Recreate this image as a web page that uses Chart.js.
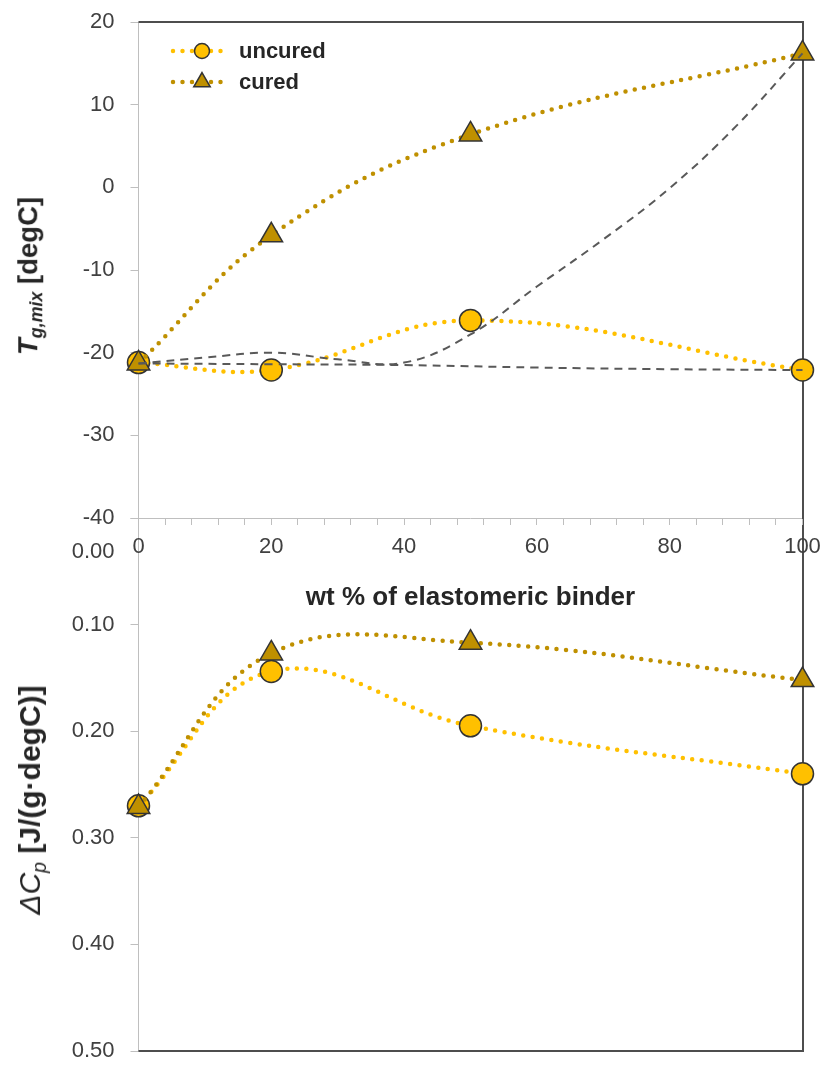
<!DOCTYPE html>
<html><head><meta charset="utf-8">
<script src="https://cdn.jsdelivr.net/npm/chart.js@4.4.1/dist/chart.umd.min.js"></script>
<style>
html,body{margin:0;padding:0;background:#fff;overflow:hidden;}
#wrap{position:relative;width:827px;height:1067px;overflow:hidden;background:#fff;}
canvas{position:absolute;left:0;}
#cBot{top:0;}
#cTop{top:-20px;}
.ytitle{position:absolute;white-space:nowrap;font-family:'Liberation Sans',Arial,sans-serif;font-weight:bold;color:#262626;line-height:1;transform:translate(-50%,-50%) rotate(-90deg);}
.sub{font-size:0.65em;position:relative;top:0.3em;}
</style></head>
<body><div id="wrap">
<canvas id="cBot" width="827" height="1130"></canvas>
<canvas id="cTop" width="847" height="1087"></canvas>
<div class="ytitle" style="left:28px;top:276px;font-size:27.5px;"><i>T</i><span class="sub"><i>g,mix</i></span> [degC]</div>
<div class="ytitle" style="left:30px;top:800px;font-size:30px;"><i style="font-weight:normal">ΔC</i><span class="sub"><i style="font-weight:normal">p</i></span> [J/(g·degC)]</div>
</div>
<script>
// ---- data ----
const wtPct = [0, 20, 50, 100];
const seriesNames = ['uncured', 'cured'];
const tgUncured = [-21.2, -22.1, -16.1, -22.1];
const tgCured = [-21.3, -5.8, 6.4, 16.2];
const modelUpperX = [0, 10, 20, 30, 40, 50, 60, 70, 80, 90, 100];
const modelUpperTg = [-21.3, -20.6, -20.0, -20.8, -21.2, -17.8, -12.0, -6.3, -0.1, 7.4, 16.2];
const modelLowerX = [0, 20, 40, 60, 80, 100];
const modelLowerTg = [-21.3, -21.4, -21.5, -21.8, -22.0, -22.1];
const cpUncured = [0.270, 0.144, 0.195, 0.240];
const cpCured = [0.271, 0.127, 0.117, 0.152];
const xTicks = [0, 4, 8, 12, 16, 20, 24, 28, 32, 36, 40, 44, 48, 52, 56, 60, 64, 68, 72, 76, 80, 84, 88, 92, 96, 100];
const xTickLabels = ['0', '20', '40', '60', '80', '100'];
const tgTicks = [-40, -30, -20, -10, 0, 10, 20];
const tgTickLabels = ['-40', '-30', '-20', '-10', '0', '10', '20'];
const cpTicks = [0, 0.1, 0.2, 0.3, 0.4, 0.5];
const cpTickLabels = ['0.00', '0.10', '0.20', '0.30', '0.40', '0.50'];

const zip = (xs, ys) => xs.map((x, i) => ({x: x, y: ys[i]}));

const FONT = "'Liberation Sans', Arial, Helvetica, sans-serif";
Chart.defaults.font.family = FONT;
Chart.defaults.color = '#404040';

const C_UNC = '#FFC000', C_CUR = '#BF9000', C_EDGE = '#333333', C_MODEL = '#595959';

function uncuredDS(data) {
  return {label: seriesNames[0], data: data, order: 2, clip: false, legendRank: 0,
    borderColor: C_UNC, borderWidth: 4.5, borderDash: [0, 9.5], borderCapStyle: 'round', tension: 0.4,
    pointStyle: 'circle', pointRadius: 11, pointBorderWidth: 1.5, pointBackgroundColor: C_UNC, pointBorderColor: C_EDGE, fill: false};
}
function curedDS(data) {
  return {label: seriesNames[1], data: data, order: 1, clip: false, legendRank: 1,
    borderColor: C_CUR, borderWidth: 4.5, borderDash: [0, 9.5], borderCapStyle: 'round', tension: 0.4,
    pointStyle: 'triangle', pointRadius: 13, pointBorderWidth: 1.5, pointBackgroundColor: C_CUR, pointBorderColor: C_EDGE, fill: false};
}
function modelDS(data) {
  return {label: 'model', data: data, order: 0, clip: false,
    borderColor: C_MODEL, borderWidth: 2, borderDash: [8, 6], tension: 0.4, pointRadius: 0, fill: false};
}

const framePlugin = {
  id: 'frame',
  beforeDatasetsDraw(chart, args, opts) {
    const {ctx, chartArea} = chart;
    const {left, right, top, bottom} = chartArea;
    ctx.save();
    ctx.strokeStyle = opts.color || '#555';
    ctx.lineWidth = opts.width || 2;
    ctx.beginPath();
    if (opts.top) { ctx.moveTo(left, top); ctx.lineTo(right + 1.5, top); }
    if (opts.right) { ctx.moveTo(right + 0.5, top - 1); ctx.lineTo(right + 0.5, bottom + 1); }
    if (opts.bottom) { ctx.moveTo(left, bottom); ctx.lineTo(right + 1.5, bottom); }
    ctx.stroke();
    ctx.restore();
  }
};

const legendPlugin = {
  id: 'inLegend',
  afterDatasetsDraw(chart, args, opts) {
    if (!opts.show) return;
    const {ctx} = chart;
    const items = chart.data.datasets.filter(d => d.legendRank !== undefined)
      .sort((a, b) => a.legendRank - b.legendRank);
    items.forEach((ds, i) => {
      const y = opts.rows[i];
      ctx.save();
      ctx.strokeStyle = ds.borderColor;
      ctx.lineWidth = ds.borderWidth;
      ctx.lineCap = 'round';
      ctx.setLineDash(ds.borderDash);
      ctx.beginPath(); ctx.moveTo(opts.x0, y); ctx.lineTo(opts.x1, y); ctx.stroke();
      ctx.setLineDash([]);
      ctx.fillStyle = ds.pointBackgroundColor;
      ctx.strokeStyle = ds.pointBorderColor;
      ctx.lineWidth = ds.pointBorderWidth;
      Chart.helpers.drawPoint(ctx, {pointStyle: ds.pointStyle, radius: ds.pointStyle === 'triangle' ? 9.5 : 7.5,
        borderWidth: ds.pointBorderWidth, rotation: 0}, opts.xm, y);
      ctx.fillStyle = '#262626';
      ctx.font = 'bold 22px ' + FONT;
      ctx.textBaseline = 'middle';
      ctx.textAlign = 'left';
      ctx.fillText(ds.label, opts.xt, y + 1);
      ctx.restore();
    });
  }
};

const axisGrid = {drawOnChartArea: false, drawTicks: true, color: '#BFBFBF', lineWidth: 1};

new Chart(document.getElementById('cTop'), {
  type: 'line',
  data: {datasets: [
    modelDS(zip(modelUpperX, modelUpperTg)),
    modelDS(zip(modelLowerX, modelLowerTg)),
    curedDS(zip(wtPct, tgCured)),
    uncuredDS(zip(wtPct, tgUncured))
  ]},
  options: {
    responsive: false, animation: false, events: [],
    layout: {padding: {top: 42, left: 0, right: 44.5, bottom: 454}},
    plugins: {legend: {display: false}, tooltip: {enabled: false},
      frame: {top: true, right: true, color: '#4d4d4d', width: 2},
      inLegend: {show: true, rows: [71, 102], x0: 173, x1: 228, xm: 202, xt: 239}},
    scales: {
      x: {type: 'linear', min: 0, max: 100,
        afterBuildTicks: s => { s.ticks = xTicks.map(v => ({value: v})); },
        afterFit: s => { s.height = 95; },
        ticks: {autoSkip: false, maxRotation: 0, padding: 9, font: {size: 22}, color: '#404040',
          callback: v => xTickLabels.includes(String(v)) ? String(v) : ''},
        grid: Object.assign({}, axisGrid, {tickLength: 7}),
        border: {color: '#BFBFBF', width: 1},
        title: {display: true, text: 'wt % of elastomeric binder', color: '#262626',
          font: {size: 26, weight: 'bold'}, padding: {top: 0, bottom: 0}}},
      y: {type: 'linear', min: -40, max: 20,
        afterBuildTicks: s => { s.ticks = tgTicks.map(v => ({value: v})); },
        afterFit: s => { s.width = 138.5; },
        ticks: {autoSkip: false, padding: 16, font: {size: 22}, color: '#404040',
          callback: (v) => tgTickLabels[tgTicks.indexOf(v)]},
        grid: Object.assign({}, axisGrid, {tickLength: 8}),
        border: {color: '#BFBFBF', width: 1}}
    }
  },
  plugins: [framePlugin, legendPlugin]
});

new Chart(document.getElementById('cBot'), {
  type: 'line',
  data: {datasets: [
    curedDS(zip(wtPct, cpCured)),
    uncuredDS(zip(wtPct, cpUncured))
  ]},
  options: {
    responsive: false, animation: false, events: [],
    layout: {padding: {top: 518, left: 0, right: 24.5, bottom: 79}},
    plugins: {legend: {display: false}, tooltip: {enabled: false},
      frame: {bottom: true, right: true, color: '#4d4d4d', width: 2},
      inLegend: {show: false}},
    scales: {
      x: {type: 'linear', min: 0, max: 100, display: false},
      y: {type: 'linear', min: 0, max: 0.5, reverse: true,
        afterBuildTicks: s => { s.ticks = cpTicks.map(v => ({value: v})); },
        afterFit: s => { s.width = 138.5; },
        ticks: {autoSkip: false, padding: 16, font: {size: 22, lineHeight: 1.55}, color: '#404040',
          callback: (v) => { const k = cpTicks.indexOf(v); return k === 0 ? ['', '', cpTickLabels[k]] : cpTickLabels[k]; }},
        grid: Object.assign({}, axisGrid, {tickLength: 8}),
        border: {color: '#BFBFBF', width: 1}}
    }
  },
  plugins: [framePlugin, legendPlugin]
});
</script>
</body></html>
